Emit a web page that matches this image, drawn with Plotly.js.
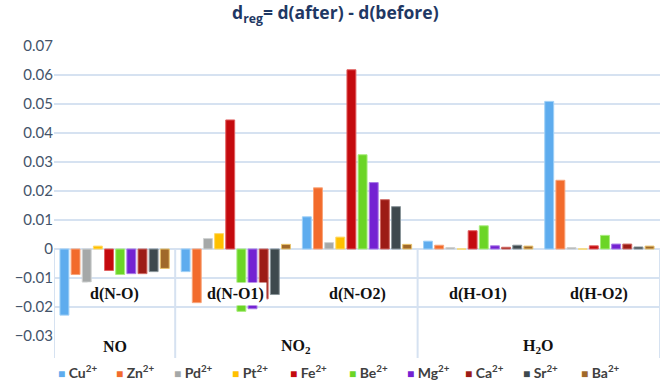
<!DOCTYPE html>
<html>
<head>
<meta charset="utf-8">
<script src="https://cdn.plot.ly/plotly-3.0.1.min.js"></script>
<style>
  html, body { margin: 0; padding: 0; background: #fff; }
  #chart { width: 664px; height: 390px; }
</style>
</head>
<body>
<div id="chart"></div>
<script>
// bond parameters (inner category level) and the molecule each belongs to
const params = ['d(N-O)', 'd(N-O1)', 'd(N-O2)', 'd(H-O1)', 'd(H-O2)'];
const molecules = ['NO', 'NO<sub>2</sub>', 'H<sub>2</sub>O'];
const moleculeSpan = [1, 2, 2];   // how many params under each molecule

const ions = ['Cu<sup>2+</sup>', 'Zn<sup>2+</sup>', 'Pd<sup>2+</sup>', 'Pt<sup>2+</sup>', 'Fe<sup>2+</sup>',
              'Be<sup>2+</sup>', 'Mg<sup>2+</sup>', 'Ca<sup>2+</sup>', 'Sr<sup>2+</sup>', 'Ba<sup>2+</sup>'];

// d_reg per ion, one value per param
const cu = [-0.0228, -0.0078, 0.0111, 0.0027, 0.0509];
const zn = [-0.0088, -0.0185, 0.0211, 0.0013, 0.0237];
const pd = [-0.0114,  0.0036, 0.0022, 0.0005, 0.0005];
const pt = [ 0.0010,  0.0053, 0.0041, 0.0000, 0.0000];
const fe = [-0.0074,  0.0445, 0.0618, 0.0063, 0.0011];
const be = [-0.0088, -0.0215, 0.0325, 0.0080, 0.0047];
const mg = [-0.0085, -0.0206, 0.0229, 0.0011, 0.0017];
const ca = [-0.0085, -0.0172, 0.0170, 0.0006, 0.0017];
const sr = [-0.0078, -0.0157, 0.0146, 0.0013, 0.0007];
const ba = [-0.0067,  0.0016, 0.0016, 0.0010, 0.0010];
const series = [cu, zn, pd, pt, fe, be, mg, ca, sr, ba];

const fills = ['#5eacee', '#f26b2c', '#a5a8a8', '#ffc000', '#c40a0e',
               '#6bd526', '#7422d2', '#9c1c16', '#3e494e', '#a0692a'];
const edges = ['#9fd0f7', '#f8a47a', '#cfd1d1', '#ffd966', '#e06060',
               '#a8ec7c', '#a878e6', '#cf6a64', '#8a9599', '#e8c26a'];

const GRID = '#d6e2f1';
const Y_MIN = -0.03, Y_MAX = 0.07;
const W = 664, H = 390;
const M = { l: 54, r: 4, t: 46, b: 54 };
const plotW = W - M.l - M.r, plotH = H - M.t - M.b;
// pixel -> paper helpers for things drawn outside the plot area
const px2x = px => (px - M.l) / plotW;
const py2y = py => (H - M.b - py) / plotH;

const traces = ions.map((name, i) => ({
  type: 'bar',
  name: name,
  x: params,
  y: series[i],
  marker: { color: fills[i], line: { color: edges[i], width: 1 } },
  hoverinfo: 'x+y+name'
}));

const labelFont = { family: 'Liberation Serif', size: 16, weight: 'bold', color: '#111' };

// inner labels sit just under the zero line, white box so bars break behind them
const annotations = params.map((p, i) => ({
  x: i, y: -0.0155, xref: 'x', yref: 'y',
  text: p, showarrow: false, bgcolor: '#ffffff', borderpad: 2,
  font: labelFont
}));

// outer labels (molecules) below the plot + divider lines
const zeroFrac = (0 - Y_MIN) / (Y_MAX - Y_MIN);
const divBottom = py2y(358);
const shapes = [{ type: 'line', xref: 'x', yref: 'paper', x0: -0.5, x1: -0.5, y0: zeroFrac, y1: divBottom,
                  line: { color: GRID, width: 2 } }];
let start = 0;
molecules.forEach((m, k) => {
  const end = start + moleculeSpan[k];
  annotations.push({
    x: (start + end - 1) / 2, y: py2y(346), xref: 'x', yref: 'paper', yanchor: 'middle',
    text: m, showarrow: false, font: labelFont
  });
  shapes.push({ type: 'line', xref: 'x', yref: 'paper', x0: end - 0.5, x1: end - 0.5, y0: zeroFrac, y1: divBottom,
                line: { color: GRID, width: 2 } });
  start = end;
});

// Excel-style compact legend row along the bottom
const LEG_X0 = 56, LEG_STEP = 58.1, LEG_Y = 371;
ions.forEach((name, i) => {
  annotations.push({
    x: px2x(LEG_X0 + i * LEG_STEP), y: py2y(LEG_Y), xref: 'paper', yref: 'paper',
    xanchor: 'left', yanchor: 'middle', showarrow: false,
    text: `<span style="color:${fills[i]};font-size:12px">■</span> ${name}`,
    font: { family: 'Lato', size: 14, weight: 'bold', color: '#404040' }
  });
});

const layout = {
  width: W, height: H,
  margin: M,
  paper_bgcolor: '#fff', plot_bgcolor: '#fff',
  title: {
    text: 'd<sub>reg</sub>= d(after) - d(before)',
    x: 0.505, xref: 'container', y: 1 - 13 / H, yref: 'container', yanchor: 'middle',
    font: { family: 'Open Sans', size: 17.5, weight: 'bold', color: '#1f3864' }
  },
  barmode: 'group',
  bargap: 0.08,
  bargroupgap: 0.2,
  xaxis: {
    type: 'category', range: [-0.5, params.length - 0.5],
    showticklabels: false, showgrid: false, zeroline: false, showline: false, ticks: ''
  },
  yaxis: {
    range: [Y_MIN, Y_MAX], dtick: 0.01, tickformat: '.2~f',
    showgrid: true, gridcolor: GRID, gridwidth: 1.5,
    zeroline: true, zerolinecolor: GRID, zerolinewidth: 1.5,
    showline: false, ticks: '', ticklen: 0,
    tickfont: { family: 'Lato', size: 15, color: '#44546a' }
  },
  showlegend: false,
  annotations: annotations,
  shapes: shapes
};

Plotly.newPlot('chart', traces, layout, { displayModeBar: false, staticPlot: true });
</script>
</body>
</html>
